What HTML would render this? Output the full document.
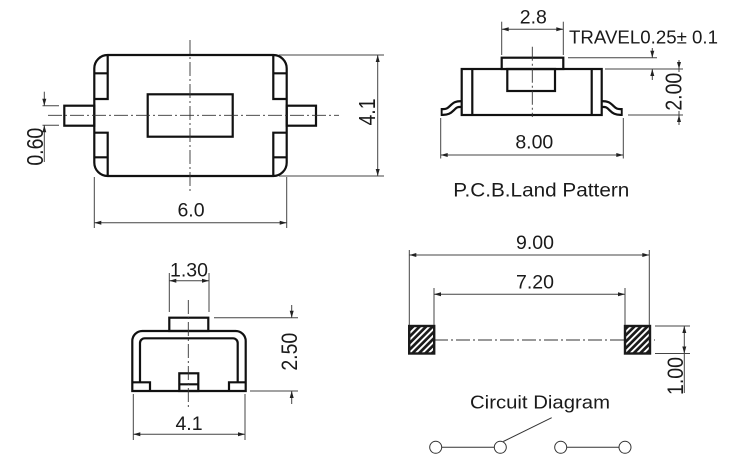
<!DOCTYPE html>
<html><head><meta charset="utf-8"><style>
html,body{margin:0;padding:0;background:#fff;}
svg{display:block;}
text{font-family:"Liberation Sans",Arial,sans-serif;fill:#1a1a1a;}
</style></head><body>
<svg width="735" height="468" viewBox="0 0 735 468" xmlns="http://www.w3.org/2000/svg">
<defs>
<pattern id="h" patternUnits="userSpaceOnUse" width="4.6" height="4.6" patternTransform="rotate(45)">
<rect width="4.6" height="4.6" fill="#1a1a1a"/><rect x="0" width="1.9" height="4.6" fill="#fff"/>
</pattern>
</defs>

<!-- ===== top view body ===== -->
<g stroke="#111" stroke-width="2.2" fill="none" stroke-linejoin="miter">
<path d="M107.7,55 H273.3 A13.4,13.4 0 0 1 286.7,68.4 V162.6 A13.4,13.4 0 0 1 273.3,176 H107.7 A13.4,13.4 0 0 1 94.3,162.6 V68.4 A13.4,13.4 0 0 1 107.7,55 Z"/>
<path d="M107.7,55 V99 H94.3 M94.3,73.3 H107.7"/>
<path d="M107.7,176 V132.7 H94.3 M94.3,157.3 H107.7"/>
<path d="M273.3,55 V99 H286.7 M286.7,73.3 H273.3"/>
<path d="M273.3,176 V132.7 H286.7 M286.7,157.3 H273.3"/>
<rect x="64.3" y="105.7" width="30" height="20"/>
<rect x="286.7" y="105.7" width="29.3" height="20"/>
<rect x="147.7" y="94.3" width="85" height="42.4"/>
</g>

<!-- ===== centerlines ===== -->
<g stroke="#333" stroke-width="0.9" fill="none" stroke-dasharray="14 3 2 3">
<line x1="190" y1="40" x2="190" y2="192"/>
<line x1="48" y1="115.3" x2="339" y2="115.3"/>
<line x1="434" y1="340" x2="655" y2="340"/>
</g>

<!-- top view dimensions -->
<g stroke="#444" stroke-width="1" fill="none">
<line x1="279" y1="55" x2="384" y2="55"/>
<line x1="279" y1="176" x2="384" y2="176"/>
<line x1="377.7" y1="55" x2="377.7" y2="176"/>
<line x1="94.3" y1="177" x2="94.3" y2="228"/>
<line x1="286.7" y1="177" x2="286.7" y2="228"/>
<line x1="94.3" y1="222.7" x2="286.7" y2="222.7"/>
<line x1="42.5" y1="105.7" x2="59" y2="105.7"/>
<line x1="42.5" y1="125.3" x2="59" y2="125.3"/>
<line x1="44.3" y1="91.7" x2="44.3" y2="105.7"/>
<line x1="44.3" y1="125.3" x2="44.3" y2="162"/>
</g>
<g fill="#222">
<polygon points="377.7,55 375.7,62 379.7,62"/>
<polygon points="377.7,176 375.7,169 379.7,169"/>
<polygon points="94.3,222.7 101.3,220.7 101.3,224.7"/>
<polygon points="286.7,222.7 279.7,220.7 279.7,224.7"/>
<polygon points="44.3,105.7 42.3,98.7 46.3,98.7"/>
<polygon points="44.3,125.3 42.3,132.3 46.3,132.3"/>
</g>
<text x="191" y="216.5" font-size="19.5" text-anchor="middle">6.0</text>
<text transform="translate(366.7,112) rotate(-90) scale(1,1.2)" x="0" y="6.8" font-size="19.5" text-anchor="middle">4.1</text>
<text transform="translate(35,146.7) rotate(-90) scale(1,1.2)" x="0" y="6.8" font-size="19.5" text-anchor="middle">0.60</text>

<!-- ===== side view ===== -->
<g fill="none" stroke-linecap="butt">
<path d="M462,104 C456,104 455,105 452,108 C449,111 447,112 443,112 L440.7,112" stroke="#111" stroke-width="8"/>
<path d="M462,104 C456,104 455,105 452,108 C449,111 447,112 443,112 L442.6,112" stroke="#fff" stroke-width="3.6"/>
<path d="M601.4,104 C607.4,104 608.4,105 611.4,108 C614.4,111 616.4,112 620.4,112 L622.7,112" stroke="#111" stroke-width="8"/>
<path d="M601.4,104 C607.4,104 608.4,105 611.4,108 C614.4,111 616.4,112 620.4,112 L620.8,112" stroke="#fff" stroke-width="3.6"/>
</g>
<g stroke="#111" stroke-width="2.2" fill="none">
<rect x="461.7" y="69" width="140" height="46" fill="#fff"/>
<line x1="472.3" y1="69" x2="472.3" y2="115"/>
<line x1="591.7" y1="69" x2="591.7" y2="115"/>
<rect x="501.7" y="57.7" width="61.6" height="11.3" fill="#fff"/>
<rect x="507.3" y="69" width="47.7" height="22"/>
</g>
<g stroke="#333" stroke-width="0.9" fill="none" stroke-dasharray="14 3 2 3">
<line x1="532.3" y1="46.7" x2="532.3" y2="117"/>
</g>
<g stroke="#444" stroke-width="1" fill="none">
<line x1="501.7" y1="21.7" x2="501.7" y2="55"/>
<line x1="563.3" y1="21.7" x2="563.3" y2="55"/>
<line x1="501.7" y1="29.3" x2="563.3" y2="29.3"/>
<line x1="568" y1="57.7" x2="657" y2="57.7"/>
<line x1="605" y1="69" x2="683" y2="69"/>
<line x1="652.3" y1="48" x2="652.3" y2="57.7"/>
<line x1="652.3" y1="69" x2="652.3" y2="80"/>
<line x1="628" y1="115" x2="683" y2="115"/>
<line x1="679" y1="60" x2="679" y2="72"/>
<line x1="679" y1="111" x2="679" y2="125"/>
<line x1="440.7" y1="118" x2="440.7" y2="158.5"/>
<line x1="623.3" y1="118" x2="623.3" y2="158.5"/>
<line x1="440.7" y1="155" x2="623.3" y2="155"/>
</g>
<g fill="#222">
<polygon points="501.7,29.3 508.7,27.3 508.7,31.3"/>
<polygon points="563.3,29.3 556.3,27.3 556.3,31.3"/>
<polygon points="652.3,57.7 650.3,50.7 654.3,50.7"/>
<polygon points="652.3,69 650.3,76 654.3,76"/>
<polygon points="679,69 677,62 681,62"/>
<polygon points="679,115 677,122 681,122"/>
<polygon points="440.7,155 447.7,153 447.7,157"/>
<polygon points="623.3,155 616.3,153 616.3,157"/>
</g>
<text x="533.3" y="23.3" font-size="19.5" text-anchor="middle">2.8</text>
<text x="569" y="43.3" font-size="18.5" textLength="149" lengthAdjust="spacingAndGlyphs">TRAVEL0.25± 0.1</text>
<text transform="translate(673.3,91.7) rotate(-90) scale(1,1.2)" x="0" y="6.8" font-size="19.5" text-anchor="middle">2.00</text>
<text x="534.3" y="148.3" font-size="19.5" text-anchor="middle">8.00</text>
<text x="453.3" y="196.7" font-size="19" textLength="176" lengthAdjust="spacingAndGlyphs">P.C.B.Land Pattern</text>

<!-- ===== front view ===== -->
<g stroke="#111" stroke-width="2.2" fill="none">
<path d="M132.3,391 V341 A10,10 0 0 1 142.3,331 H235.7 A10,10 0 0 1 245.7,341 V391 Z"/>
<path d="M140,382.3 V343 A4.7,4.7 0 0 1 144.7,338.3 H233 A4.7,4.7 0 0 1 237.7,343 V382.3"/>
<path d="M132.3,382.3 H150 V391"/>
<path d="M245.7,382.3 H229 V391"/>
<rect x="179.3" y="373.3" width="19" height="17.7"/>
<line x1="179.3" y1="384.3" x2="198.3" y2="384.3"/>
<rect x="169.3" y="317.7" width="39" height="13.3"/>
</g>
<g stroke="#333" stroke-width="0.9" fill="none" stroke-dasharray="14 3 2 3">
<line x1="188.3" y1="300" x2="188.3" y2="407"/>
</g>
<g stroke="#444" stroke-width="1" fill="none">
<line x1="169.3" y1="273" x2="169.3" y2="312"/>
<line x1="209" y1="273" x2="209" y2="312"/>
<line x1="169.3" y1="280.7" x2="209" y2="280.7"/>
<line x1="214" y1="317.7" x2="298" y2="317.7"/>
<line x1="250" y1="391" x2="298" y2="391"/>
<line x1="291.7" y1="305" x2="291.7" y2="317.7"/>
<line x1="291.7" y1="391" x2="291.7" y2="404"/>
<line x1="133.3" y1="394" x2="133.3" y2="440"/>
<line x1="245" y1="394" x2="245" y2="440"/>
<line x1="133.3" y1="434.3" x2="245" y2="434.3"/>
</g>
<g fill="#222">
<polygon points="169.3,280.7 176.3,278.7 176.3,282.7"/>
<polygon points="209,280.7 202,278.7 202,282.7"/>
<polygon points="291.7,317.7 289.7,310.7 293.7,310.7"/>
<polygon points="291.7,391 289.7,398 293.7,398"/>
<polygon points="133.3,434.3 140.3,432.3 140.3,436.3"/>
<polygon points="245,434.3 238,432.3 238,436.3"/>
</g>
<text x="189" y="276.7" font-size="19.5" text-anchor="middle">1.30</text>
<text transform="translate(289,351.7) rotate(-90) scale(1,1.15)" x="0" y="6.8" font-size="19.5" text-anchor="middle">2.50</text>
<text x="189" y="430" font-size="19.5" text-anchor="middle">4.1</text>

<!-- ===== PCB land pattern ===== -->
<rect x="409.2" y="326" width="25" height="27.5" fill="url(#h)" stroke="#1a1a1a" stroke-width="2.4"/>
<rect x="625" y="326" width="25" height="27.5" fill="url(#h)" stroke="#1a1a1a" stroke-width="2.4"/>
<g stroke="#444" stroke-width="1" fill="none">
<line x1="409.3" y1="250" x2="409.3" y2="325"/>
<line x1="649.3" y1="250" x2="649.3" y2="325"/>
<line x1="409.3" y1="255" x2="649.3" y2="255"/>
<line x1="434" y1="288" x2="434" y2="325"/>
<line x1="625" y1="288" x2="625" y2="325"/>
<line x1="434" y1="294.3" x2="625" y2="294.3"/>
<line x1="655" y1="326" x2="690" y2="326"/>
<line x1="655" y1="353.5" x2="690" y2="353.5"/>
<line x1="684.3" y1="326" x2="684.3" y2="393"/>
</g>
<g fill="#222">
<polygon points="409.3,255 416.3,253 416.3,257"/>
<polygon points="649.3,255 642.3,253 642.3,257"/>
<polygon points="434,294.3 441,292.3 441,296.3"/>
<polygon points="625,294.3 618,292.3 618,296.3"/>
<polygon points="684.3,326 682.3,333 686.3,333"/>
<polygon points="684.3,353.5 682.3,346.5 686.3,346.5"/>
</g>
<text x="535" y="249" font-size="19.5" text-anchor="middle">9.00</text>
<text x="535" y="288.3" font-size="19.5" text-anchor="middle">7.20</text>
<text transform="translate(675,376) rotate(-90) scale(1,1.15)" x="0" y="6.8" font-size="19.5" text-anchor="middle">1.00</text>

<!-- ===== circuit diagram ===== -->
<text x="470" y="408.3" font-size="18.5" textLength="140" lengthAdjust="spacingAndGlyphs">Circuit Diagram</text>
<g stroke="#333" stroke-width="1" fill="#fff">
<line x1="441.7" y1="447.3" x2="494.3" y2="447.3"/>
<line x1="566.7" y1="447.3" x2="619" y2="447.3"/>
<line x1="503.3" y1="441.5" x2="551.7" y2="417.7"/>
<circle cx="435.7" cy="447.3" r="6"/>
<circle cx="500.3" cy="447.3" r="6"/>
<circle cx="560.7" cy="447.3" r="6"/>
<circle cx="625" cy="447.3" r="6"/>
</g>
</svg>
</body></html>
